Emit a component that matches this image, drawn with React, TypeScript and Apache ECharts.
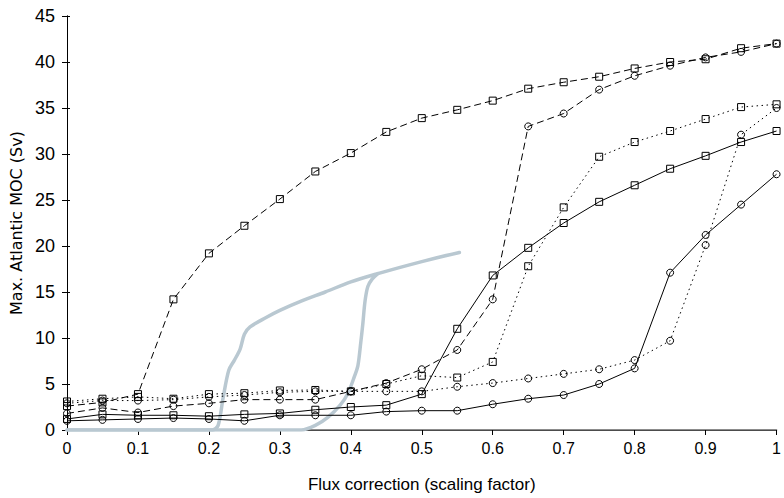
import React, { useEffect, useRef } from "react";
import * as echarts from "echarts";

const fluxX = [0, 0.05, 0.1, 0.15, 0.2, 0.25, 0.3, 0.35, 0.4, 0.45, 0.5, 0.55, 0.6, 0.65, 0.7, 0.75, 0.8, 0.85, 0.9, 0.95, 1.0];

const dashedSquare = [2.6, 3.0, 3.9, 14.2, 19.2, 22.2, 25.1, 28.1, 30.1, 32.4, 33.9, 34.8, 35.8, 37.1, 37.8, 38.4, 39.3, 40.0, 40.3, 41.5, 42.0];
const dashedCircle = [1.8, 2.4, 1.9, 2.6, 2.9, 3.3, 3.3, 3.3, 4.2, 5.1, 6.6, 8.7, 14.2, 33.0, 34.4, 37.0, 38.5, 39.6, 40.5, 41.1, 42.0];
const dottedSquare = [3.1, 3.4, 3.6, 3.4, 3.9, 4.0, 4.3, 4.35, 4.2, 5.0, 5.9, 5.7, 7.4, 17.8, 24.2, 29.7, 31.3, 32.5, 33.8, 35.1, 35.4];
const dottedCircle = [2.9, 3.2, 3.2, 3.3, 3.6, 3.8, 4.1, 4.2, 4.2, 4.2, 4.2, 4.7, 5.1, 5.6, 6.1, 6.6, 7.6, 9.7, 20.1, 32.1, 35.0];
const solidSquare = [1.2, 1.7, 1.6, 1.6, 1.5, 1.7, 1.8, 2.2, 2.5, 2.7, 3.9, 11.0, 16.8, 19.8, 22.5, 24.8, 26.6, 28.4, 29.8, 31.3, 32.5];
const solidCircle = [1.0, 1.1, 1.2, 1.3, 1.2, 1.0, 1.6, 1.6, 1.6, 2.0, 2.1, 2.1, 2.8, 3.4, 3.8, 5.0, 6.7, 17.1, 21.2, 24.5, 27.8];

// Grey hysteresis branches (x, y)
const hystUpperX = [0, 0.205, 0.213, 0.22, 0.228, 0.236, 0.244, 0.25, 0.258, 0.28, 0.3, 0.33, 0.364, 0.4, 0.438, 0.48, 0.52, 0.553];
const hystUpperY = [0, 0, 0.5, 3.5, 6.5, 7.6, 8.8, 10.4, 11.2, 12.2, 13.0, 14.0, 15.0, 16.1, 17.0, 17.9, 18.7, 19.3];
const hystLowerX = [0, 0.33, 0.35, 0.368, 0.385, 0.396, 0.405, 0.41, 0.414, 0.417, 0.42, 0.424, 0.43, 0.438];
const hystLowerY = [0, 0, 0.5, 1.4, 2.7, 4.0, 5.8, 7.0, 9.5, 11.6, 14.0, 15.6, 16.4, 17.0];

const xTicks = { min: 0, max: 1, interval: 0.1 };
const yTicks = { min: 0, max: 45, interval: 5 };

const pairs = (xs: number[], ys: number[]) => xs.map((x, i) => [x, ys[i]]);

export default function App() {
  const ref = useRef<HTMLDivElement>(null);
  useEffect(() => {
    if (!ref.current) return;
    const chart = echarts.init(ref.current, undefined, { renderer: "svg" });
    const dashed = [7, 4];
    const dotted = [1.5, 3.5];
    const mk = (name: string, ys: number[], symbol: string, dash: any) => ({
      name,
      type: "line",
      data: pairs(fluxX, ys),
      symbol,
      symbolSize: 7,
      clip: false,
      z: 3,
      lineStyle: { color: "#000", width: 1, type: dash },
      itemStyle: { color: "rgba(0,0,0,0)", borderColor: "#000", borderWidth: 1 },
    });
    const grey = (name: string, xs: number[], ys: number[]) => ({
      name,
      type: "line",
      data: pairs(xs, ys),
      showSymbol: false,
      symbol: "none",
      smooth: 0.3,
      z: 2,
      lineStyle: { color: "#b9c8d1", width: 3.5, cap: "round", join: "round" },
    });
    chart.setOption({
      animation: false,
      backgroundColor: "#fff",
      grid: { left: 67, right: 3, top: 16, bottom: 68 },
      xAxis: [
        {
          type: "value",
          min: xTicks.min,
          max: xTicks.max,
          interval: xTicks.interval,
          name: "Flux correction (scaling factor)",
          nameLocation: "middle",
          nameGap: 46,
          nameTextStyle: { fontFamily: "'Liberation Sans Narrow', 'Arial Narrow', sans-serif", fontSize: 17, color: "#000" },
          axisLine: { show: true, lineStyle: { color: "#000", width: 1 } },
          axisTick: { show: true, length: 5, lineStyle: { color: "#000" } },
          axisLabel: {
            margin: 10,
            fontFamily: "'Liberation Sans Narrow', 'Arial Narrow', sans-serif",
            fontSize: 16,
            color: "#000",
            formatter: (v: number) => String(+v.toFixed(1)),
          },
          splitLine: { show: false },
        },
        {
          type: "value",
          position: "top",
          min: xTicks.min,
          max: xTicks.max,
          axisLine: { show: true, lineStyle: { color: "#666", width: 1.5 } },
          axisTick: { show: false },
          axisLabel: { show: false },
          splitLine: { show: false },
        },
      ],
      yAxis: [
        {
          type: "value",
          min: yTicks.min,
          max: yTicks.max,
          interval: yTicks.interval,
          name: "Max. Atlantic MOC (Sv)",
          nameLocation: "middle",
          nameGap: 36,
          nameTextStyle: { fontFamily: "'DejaVu Sans', sans-serif", fontSize: 16, color: "#000" },
          axisLine: { show: true, lineStyle: { color: "#000", width: 1 } },
          axisTick: { show: true, length: 5, lineStyle: { color: "#000" } },
          axisLabel: { margin: 12, fontFamily: "'Liberation Sans', Arial, sans-serif", fontSize: 18, color: "#000" },
          splitLine: { show: false },
        },
        {
          type: "value",
          position: "right",
          min: yTicks.min,
          max: yTicks.max,
          interval: yTicks.interval,
          axisLine: { show: true, lineStyle: { color: "#000", width: 1 } },
          axisTick: { show: true, length: 3, lineStyle: { color: "#000" } },
          axisLabel: { show: false },
          splitLine: { show: false },
        },
      ],
      series: [
        grey("Hysteresis upper", hystUpperX, hystUpperY),
        grey("Hysteresis lower", hystLowerX, hystLowerY),
        mk("Dashed squares", dashedSquare, "rect", dashed),
        mk("Dashed circles", dashedCircle, "circle", dashed),
        mk("Dotted squares", dottedSquare, "rect", dotted),
        mk("Dotted circles", dottedCircle, "circle", dotted),
        mk("Solid squares", solidSquare, "rect", "solid"),
        mk("Solid circles", solidCircle, "circle", "solid"),
      ],
    });
    return () => chart.dispose();
  }, []);
  return <div ref={ref} style={{ width: 784, height: 498, position: "absolute", left: 0, top: 0 }} />;
}
